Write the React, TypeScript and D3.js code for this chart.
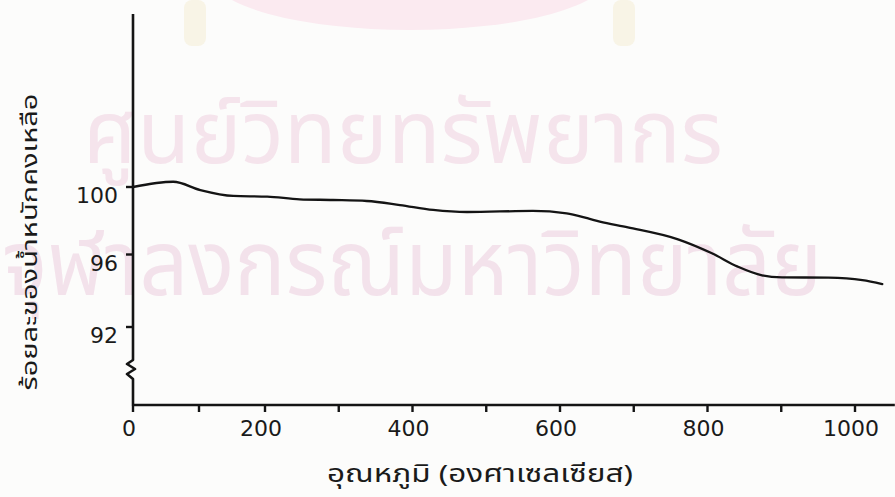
import React from "react";
import * as d3 from "d3";

// ---- data ----
const temperatures = [0, 61, 102, 152, 203, 247, 292, 338, 383, 428, 474, 563, 609, 637, 654, 692, 760, 806, 841, 874, 901, 964, 1010, 1037];
const weightPercent = [100.0, 100.31, 99.82, 99.47, 99.43, 99.27, 99.23, 99.17, 98.93, 98.64, 98.52, 98.58, 98.44, 98.15, 97.95, 97.61, 96.9, 96.07, 95.33, 94.85, 94.74, 94.72, 94.59, 94.37];
const xMajorTicks = [0, 200, 400, 600, 800, 1000];
const xMinorTicks = [100, 300, 500, 700, 900];
const yTicks = [100, 96, 92];
const xTitle = "อุณหภูมิ (องศาเซลเซียส)";
const yTitle = "ร้อยละของน้ำหนักคงเหลือ";
const watermark1 = "ศูนย์วิทยทรัพยากร";
const watermark2 = "จุฬาลงกรณ์มหาวิทยาลัย";

const W = 895;
const H = 497;
const THAI = "'Noto Sans Thai', 'Noto Sans Thai UI', Loma, Garuda, 'Tlwg Typo', Kinnari, 'Noto Sans', sans-serif";
const NUM = "'DejaVu Sans', Verdana, sans-serif";

export default function App() {
  // hand-drawn axes are slightly uneven: piecewise-linear scales
  const x = d3.scaleLinear().domain([0, 200, 1000]).range([133, 265, 855]);
  const y = d3.scaleLinear().domain([92, 96, 100]).range([327, 254.5, 187]);

  const axisX = x(0);
  const axisBottom = 405;
  const axisTop = y(110.25);
  const axisRight = x(1054);

  const line = d3
    .line<number>()
    .x((_, i) => x(temperatures[i]))
    .y((d) => y(d))
    .curve(d3.curveMonotoneX);

  const breakTop = 360;
  const yAxisPath = [
    `M${axisX},${axisTop}`,
    `L${axisX},${breakTop}`,
    `L${axisX - 6},${breakTop + 4}`,
    `L${axisX + 2},${breakTop + 9}`,
    `L${axisX - 6},${breakTop + 14}`,
    `L${axisX},${breakTop + 19}`,
    `L${axisX},${axisBottom}`,
    `L${axisRight},${axisBottom}`,
  ].join(" ");

  return (
    <svg
      width={W}
      height={H}
      viewBox={`0 0 ${W} ${H}`}
      style={{ position: "absolute", left: 0, top: 0, background: "#fcfcfb" }}
    >
      {/* faint watermark of the scanned page */}
      <g>
        <ellipse cx={410} cy={-25} rx={200} ry={55} fill="#fbeaf0" />
        <rect x={184} y={0} width={22} height={46} rx={8} fill="#f8f4e6" />
        <rect x={613} y={0} width={22} height={46} rx={8} fill="#f8f4e6" />
        <text
          x={83}
          y={163}
          fontFamily={THAI}
          fontSize={88}
          fill="#f5e4ec"
          textLength={640}
          lengthAdjust="spacingAndGlyphs"
        >
          {watermark1}
        </text>
        <text
          x={2}
          y={295}
          fontFamily={THAI}
          fontSize={92}
          fill="#f3e2eb"
          textLength={820}
          lengthAdjust="spacingAndGlyphs"
        >
          {watermark2}
        </text>
      </g>

      {/* axes */}
      <path d={yAxisPath} fill="none" stroke="#141414" strokeWidth={2.6} strokeLinejoin="round" />
      {xMajorTicks.concat(xMinorTicks).map((t) => (
        <line key={`xt${t}`} x1={x(t)} x2={x(t)} y1={axisBottom} y2={axisBottom + 7} stroke="#141414" strokeWidth={2.4} />
      ))}
      {yTicks.map((t) => (
        <line key={`yt${t}`} x1={axisX - 7} x2={axisX} y1={y(t)} y2={y(t)} stroke="#141414" strokeWidth={2.4} />
      ))}

      {xMajorTicks.map((t) => (
        <text key={`xl${t}`} x={x(t) - 4} y={436} textAnchor="middle" fontFamily={NUM} fontSize={22} fill="#1a1a1a">
          {t}
        </text>
      ))}
      {yTicks.map((t) => (
        <text key={`yl${t}`} x={118} y={y(t) + 16} textAnchor="end" fontFamily={NUM} fontSize={22} fill="#1a1a1a">
          {t}
        </text>
      ))}

      {/* data curve */}
      <path d={line(weightPercent) || ""} fill="none" stroke="#141414" strokeWidth={2.3} strokeLinecap="round" />

      {/* titles */}
      <text
        x={480}
        y={482}
        textAnchor="middle"
        fontFamily={THAI}
        fontSize={24}
        fill="#1a1a1a"
        textLength={306}
        lengthAdjust="spacingAndGlyphs"
      >
        {xTitle}
      </text>
      <text
        transform={`translate(37,242) rotate(-90)`}
        textAnchor="middle"
        fontFamily={THAI}
        fontSize={21}
        fill="#1a1a1a"
        textLength={297}
        lengthAdjust="spacingAndGlyphs"
      >
        {yTitle}
      </text>
    </svg>
  );
}
